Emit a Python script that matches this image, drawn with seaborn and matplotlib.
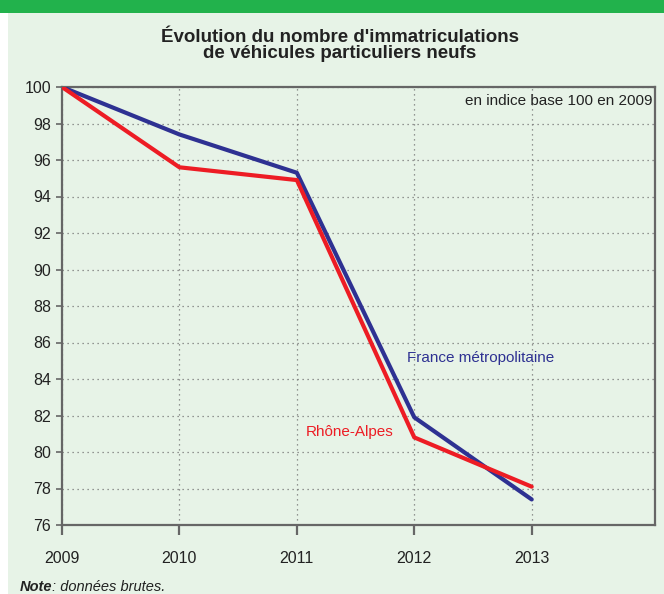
import matplotlib
matplotlib.use("Agg")
import matplotlib.pyplot as plt
import seaborn as sns
import pandas as pd

years = [2009, 2010, 2011, 2012, 2013]
france = [100.0, 97.4, 95.3, 81.9, 77.4]
rhone = [100.0, 95.6, 94.9, 80.8, 78.1]
series_names = ["France métropolitaine", "Rhône-Alpes"]
yticks = list(range(76, 101, 2))

sns.set_theme(style="white")
plt.rcParams['font.family'] = ['Liberation Sans', 'DejaVu Sans']

df = pd.DataFrame({
    "year": years * 2,
    "value": france + rhone,
    "zone": [series_names[0]] * len(years) + [series_names[1]] * len(years),
})

blue = "#2E3192"
red = "#ED1C24"
bg = "#E7F3E7"

fig = plt.figure(figsize=(6.64, 5.94), dpi=100)
fig.patch.set_facecolor("white")
fig.patches.append(plt.Rectangle((8/664, 0), 1 - 8/664, 1, transform=fig.transFigure,
                                 facecolor=bg, edgecolor="none", zorder=-2))
fig.patches.append(plt.Rectangle((0, 1 - 13/594), 1, 13/594, transform=fig.transFigure,
                                 facecolor="#22B24C", edgecolor="none", zorder=-1))

L, R, T, B = 62, 655, 87, 525
ax = fig.add_axes([L/664, 1 - B/594, (R - L)/664, (B - T)/594])
ax.set_zorder(5)
ax.set_facecolor(bg)

sns.lineplot(data=df, x="year", y="value", hue="zone", palette=[blue, red],
             linewidth=3.0, ax=ax, legend=False, zorder=3)

ax.set_xlim(2009, 2014.05)
ax.set_ylim(76, 100)
ax.set_xticks(years)
ax.set_xticklabels([str(y) for y in years])
ax.set_yticks(yticks)
ax.set_xlabel("")
ax.set_ylabel("")
ax.grid(True, color="#777777", linestyle=(0, (1, 3)), linewidth=0.9)
for s in ax.spines.values():
    s.set_color("#666666")
    s.set_linewidth(1.6)
ax.tick_params(axis="x", labelsize=11.5, labelcolor="#222222", length=7, width=1.6,
               color="#666666", pad=12, direction="out", bottom=True)
ax.tick_params(axis="y", labelsize=11.5, labelcolor="#222222", length=4, width=1.2,
               color="#666666", pad=4, direction="out", left=True)

ax.text(0.995, 0.985, "en indice base 100 en 2009", transform=ax.transAxes,
        ha="right", va="top", fontsize=11, color="#222222")
ax.text(2011.94, 85.15, "France métropolitaine", color=blue, fontsize=11, ha="left", va="center")
ax.text(2011.08, 81.1, "Rhône-Alpes", color=red, fontsize=11, ha="left", va="center")

fig.text(340/664, 1 - 37/594, "Évolution du nombre d'immatriculations", ha="center", va="center",
         fontsize=13.5, fontweight="bold", color="#222222")
fig.text(340/664, 1 - 53/594, "de véhicules particuliers neufs", ha="center", va="center",
         fontsize=13.5, fontweight="bold", color="#222222")

fig.text(20/664, 1 - 587/594, "Note", ha="left", va="center", fontsize=10.5,
         fontweight="bold", fontstyle="italic", color="#222222")
fig.text(52/664, 1 - 587/594, ": données brutes.", ha="left", va="center", fontsize=10.5,
         fontstyle="italic", color="#222222")

fig.savefig("out.png", dpi=100, facecolor=fig.get_facecolor())
